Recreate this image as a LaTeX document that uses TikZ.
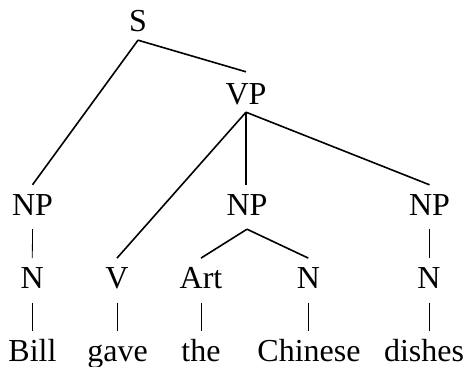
\documentclass[tikz,border=0pt]{standalone}
\usepackage{fontspec}
\setmainfont{Liberation Serif}
\begin{document}
\begin{tikzpicture}[x=1pt,y=-1pt,
  lab/.style={font=\fontsize{32}{32}\selectfont, inner sep=0pt, text height=30pt, text depth=14pt, anchor=base},
  br/.style={line width=1.6pt},
  bar/.style={line width=0.8pt}]
\useasboundingbox (0,0) rectangle (470,366);
% nodes
\node[lab, text depth=8pt] (S) at (138,32) {S};
\node[lab, text height=33pt, text depth=7pt] (VP) at (246,105) {VP};
\node[lab] (NP1) at (32.5,215) {NP};
\node[lab] (NP2) at (247,215) {NP};
\node[lab] (NP3) at (429.5,215) {NP};
\node[lab] (N1) at (32.3,288.3) {N};
\node[lab] (V) at (117,288.3) {V};
\node[lab] (Art) at (201,288.3) {Art};
\node[lab] (N2) at (308.3,288.3) {N};
\node[lab] (N3) at (429,288.3) {N};
\node[lab] (w1) at (32.5,361) {Bill};
\node[lab] (w2) at (117.5,361) {gave};
\node[lab] (w3) at (201,361) {the};
\node[lab] (w4) at (309,361) {Chinese};
\node[lab] (w5) at (424,361) {dishes};
% branches
\draw[br] (S.south) -- (NP1.north);
\draw[br] (S.south) -- (VP.north);
\draw[br] (VP.south) -- (V.north);
\draw[br] (VP.south) -- (VP.south |- NP2.north);
\draw[br] (VP.south) -- (NP3.north);
\draw[br] (NP2.south) -- (Art.north);
\draw[br] (NP2.south) -- (N2.north);
% unary bars
\draw[bar] (NP1.south) -- (N1.north);
\draw[bar] (NP3.south) -- (NP3.south |- N3.north);
\draw[bar] (N1.south) -- (N1.south |- w1.north);
\draw[bar] (V.south) -- (V.south |- w2.north);
\draw[bar] (Art.south) -- (Art.south |- w3.north);
\draw[bar] (N2.south) -- (N2.south |- w4.north);
\draw[bar] (N3.south) -- (N3.south |- w5.north);
\end{tikzpicture}
\end{document}
